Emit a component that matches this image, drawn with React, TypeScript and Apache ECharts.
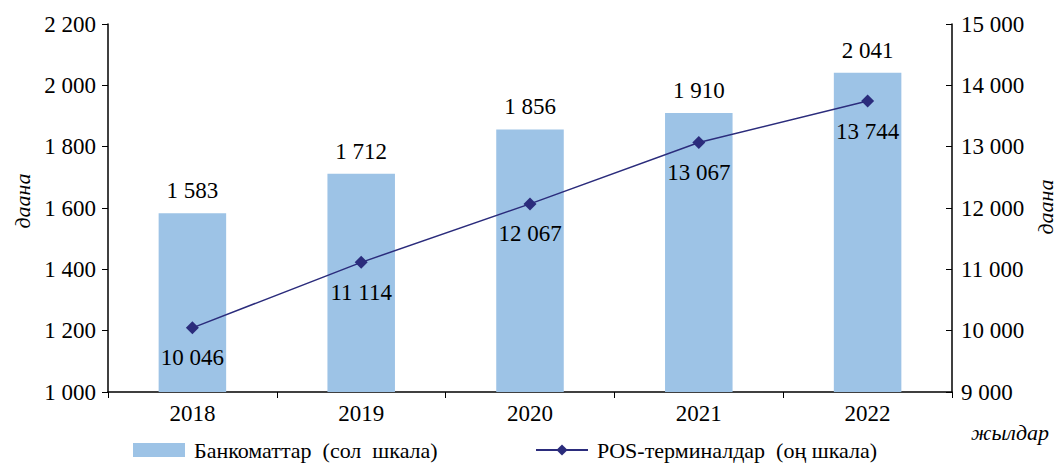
import React, { useEffect, useRef } from "react";
import * as echarts from "echarts";

const years = ["2018", "2019", "2020", "2021", "2022"];
const atms = [1583, 1712, 1856, 1910, 2041];
const pos = [10046, 11114, 12067, 13067, 13744];

const fmt = (v: number) => {
  const s = String(Math.round(v));
  return s.replace(/\B(?=(\d{3})+(?!\d))/g, " ");
};

const FONT = "Liberation Serif";
const FS = 23;
const BAR_NAME = "Банкоматтар  (сол  шкала)";
const LINE_NAME = "POS-терминалдар  (оң шкала)";

export default function App() {
  const ref = useRef<HTMLDivElement>(null);
  useEffect(() => {
    document.body.style.margin = "0";
    const chart = echarts.init(ref.current!, null, { renderer: "svg" });
    const legendText = { fontFamily: FONT, fontSize: 22, color: "#000", lineHeight: 20, padding: [0, 0, 0, 4] };
    chart.setOption({
      animation: false,
      textStyle: { fontFamily: FONT, color: "#000" },
      grid: { left: 108, right: 106, top: 24, bottom: 71 },
      legend: [
        {
          left: 133,
          top: 439,
          padding: 0,
          itemWidth: 52,
          itemHeight: 14,
          textStyle: legendText,
          data: [{ name: BAR_NAME, icon: "rect" }],
        },
        {
          left: 535,
          top: 439,
          padding: 0,
          itemWidth: 52,
          itemHeight: 14,
          textStyle: legendText,
          data: [{ name: LINE_NAME }],
        },
      ],
      xAxis: {
        type: "category",
        data: years,
        axisLine: { lineStyle: { color: "#000", width: 1.5 } },
        axisTick: { show: true, length: 6, lineStyle: { color: "#000" } },
        axisLabel: { fontFamily: FONT, fontSize: FS, color: "#000", margin: 10 },
      },
      yAxis: [
        {
          type: "value",
          min: 1000,
          max: 2200,
          interval: 200,
          axisLine: { show: true, lineStyle: { color: "#000", width: 1.5 } },
          axisTick: { show: true, length: 6, lineStyle: { color: "#000" } },
          splitLine: { show: false },
          axisLabel: { fontFamily: FONT, fontSize: FS, color: "#000", margin: 12, formatter: fmt },
        },
        {
          type: "value",
          min: 9000,
          max: 15000,
          interval: 1000,
          position: "right",
          axisLine: { show: true, lineStyle: { color: "#000", width: 1.5 } },
          axisTick: { show: true, inside: true, length: 6, lineStyle: { color: "#000" } },
          splitLine: { show: false },
          axisLabel: { fontFamily: FONT, fontSize: FS, color: "#000", margin: 9, formatter: fmt },
        },
      ],
      series: [
        {
          name: BAR_NAME,
          type: "bar",
          data: atms,
          barWidth: "40%",
          itemStyle: { color: "#9DC3E6" },
          label: {
            show: true,
            position: "top",
            distance: 11,
            fontFamily: FONT,
            fontSize: FS,
            color: "#000",
            formatter: (p: any) => fmt(p.value),
          },
        },
        {
          name: LINE_NAME,
          type: "line",
          yAxisIndex: 1,
          data: pos,
          symbol: "diamond",
          symbolSize: 13,
          lineStyle: { color: "#2B2C7C", width: 1.5 },
          itemStyle: { color: "#2B2C7C" },
          label: {
            show: true,
            position: "bottom",
            distance: 12,
            fontFamily: FONT,
            fontSize: FS,
            color: "#000",
            formatter: (p: any) => fmt(p.value),
          },
        },
      ],
      graphic: [
        {
          type: "text",
          x: 22,
          y: 201,
          rotation: Math.PI / 2,
          style: {
            text: "даана",
            fontFamily: FONT,
            fontStyle: "italic",
            fontSize: 22,
            fill: "#000",
            align: "center",
            verticalAlign: "middle",
          },
        },
        {
          type: "text",
          x: 1045,
          y: 207,
          rotation: Math.PI / 2,
          style: {
            text: "даана",
            fontFamily: FONT,
            fontStyle: "italic",
            fontSize: 22,
            fill: "#000",
            align: "center",
            verticalAlign: "middle",
          },
        },
        {
          type: "text",
          x: 1010,
          y: 432,
          style: {
            text: "жылдар",
            fontFamily: FONT,
            fontStyle: "italic",
            fontSize: 22,
            fill: "#000",
            align: "center",
            verticalAlign: "middle",
          },
        },
      ],
    });
    return () => chart.dispose();
  }, []);
  return <div ref={ref} style={{ width: 1058, height: 463 }} />;
}
